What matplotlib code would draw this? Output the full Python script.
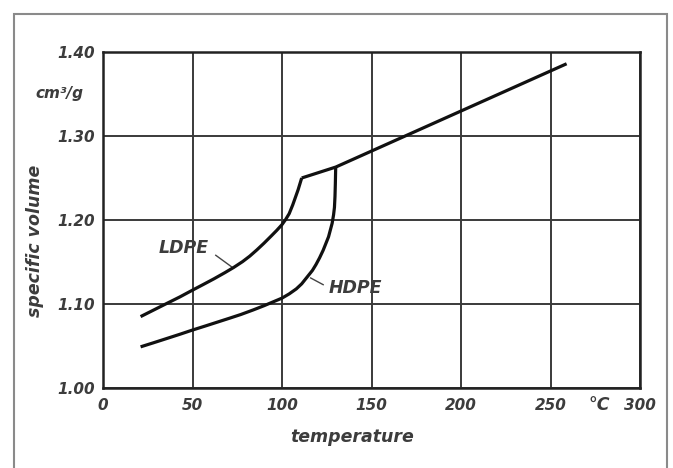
import matplotlib
matplotlib.use("Agg")
import matplotlib.pyplot as plt
from matplotlib.patches import Rectangle

# Data
ldpe_t = [21, 28, 35, 43, 50, 56, 62, 68, 73, 78, 82, 86, 90, 94, 97, 100, 102, 104, 106, 107.5, 109, 110, 111]
ldpe_v = [1.085, 1.0925, 1.100, 1.1085, 1.1165, 1.1232, 1.130, 1.1372, 1.1435, 1.1505, 1.157, 1.1645, 1.1725,
          1.181, 1.1875, 1.1945, 1.2005, 1.2075, 1.218, 1.227, 1.236, 1.243, 1.250]
hdpe_t = [21, 28, 35, 43, 50, 57, 64, 71, 77, 84, 90, 95, 100, 104, 108, 111, 114, 117, 119, 121, 123, 124.5, 126,
          127, 128, 128.8, 129.3, 129.6, 129.8, 130]
hdpe_v = [1.049, 1.0537, 1.0585, 1.064, 1.069, 1.0737, 1.0785, 1.0833, 1.0875, 1.093, 1.098, 1.1025, 1.107, 1.112,
          1.118, 1.124, 1.132, 1.140, 1.147, 1.155, 1.164, 1.172, 1.180, 1.188, 1.196, 1.206, 1.215, 1.228, 1.243, 1.263]
melt_t = [111, 130, 259]
melt_v = [1.250, 1.263, 1.386]

xticks = [0, 50, 100, 150, 200, 250, 300]
xticklabels = ["0", "50", "100", "150", "200", "250", "300"]
yticks = [1.00, 1.10, 1.20, 1.30, 1.40]
yticklabels = ["1.00", "1.10", "1.20", "1.30", "1.40"]

plt.rcParams['font.family'] = ['DejaVu Sans']
TXT = "#3c3c3c"
FS = 11
FONT = dict(fontsize=FS, style="italic", weight="bold", color=TXT)
LFONT = dict(fontsize=12.5, style="italic", weight="bold", color=TXT)

fig = plt.figure(figsize=(6.73, 4.68), dpi=100)
fig.patch.set_facecolor("white")
# outer frame
fig.add_artist(Rectangle((14/673, -0.05), (667-14)/673, 1.05 - 14/468,
                         transform=fig.transFigure, fill=False,
                         edgecolor="#8a8a8a", linewidth=1.5))

ax = fig.add_axes([103/673, 1 - 388/468, (640-103)/673, (388-52)/468])
ax.set_xlim(0, 300)
ax.set_ylim(1.00, 1.40)

ax.set_xticks(xticks)
ax.set_xticklabels(xticklabels)
ax.set_yticks(yticks)
ax.set_yticklabels(yticklabels)
ax.grid(True, color="#3a3a3a", linewidth=1.4)
ax.set_axisbelow(True)
for s in ax.spines.values():
    s.set_linewidth(1.8)
    s.set_color("#222222")
ax.tick_params(length=0, labelsize=FS, labelcolor=TXT)
ax.tick_params(axis="x", pad=7)
ax.tick_params(axis="y", pad=6)
for lab in ax.get_xticklabels() + ax.get_yticklabels():
    lab.set_fontstyle("italic")
    lab.set_fontweight("bold")

lc = "#111111"
for t, v in ((ldpe_t, ldpe_v), (hdpe_t, hdpe_v), (melt_t, melt_v)):
    ax.plot(t, v, color=lc, lw=2.3, solid_capstyle="butt", solid_joinstyle="round", zorder=3)

# labels with leader lines
ax.text(45.3, 1.1667, "LDPE", ha="center", va="center", **LFONT)
ax.plot([63, 72], [1.158, 1.144], color="#444444", lw=1.0)
ax.text(126, 1.119, "HDPE", ha="left", va="center", **LFONT)
ax.plot([116, 123], [1.131, 1.123], color="#444444", lw=1.0)

# unit labels
ax.text(-11, 1.351, "cm³/g", ha="right", va="center", clip_on=False, **FONT)
ax.text(277, -17/336, "°C", ha="center", va="center",
        transform=ax.get_xaxis_transform(), clip_on=False, **LFONT)

ax.set_xlabel("temperature", **LFONT)
ax.set_ylabel("specific volume", **LFONT)
ax.yaxis.set_label_coords(-0.127, 0.4375)
ax.xaxis.set_label_coords(0.464, -0.146)
ax.xaxis.label.set_va("center")
ax.yaxis.label.set_va("center")

fig.savefig("out.png", dpi=100)
